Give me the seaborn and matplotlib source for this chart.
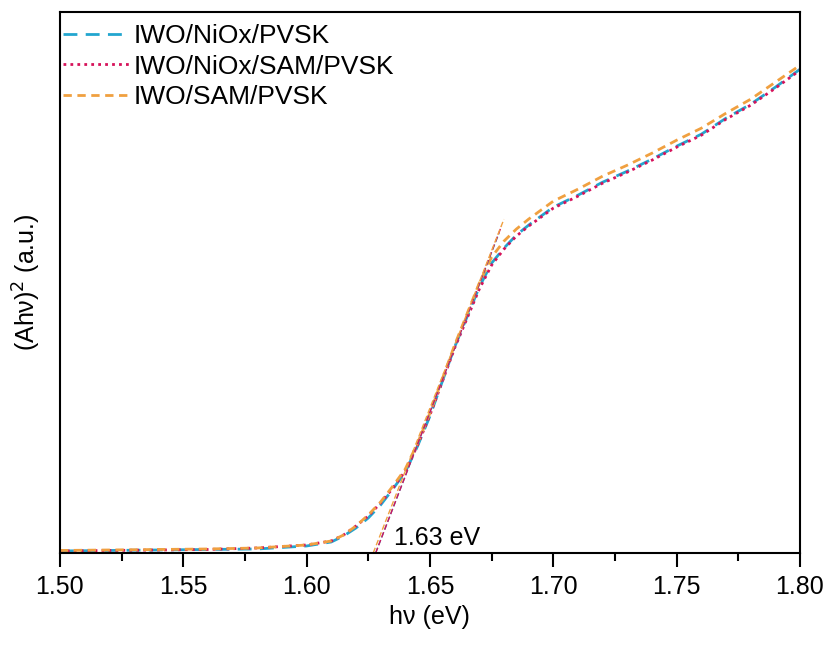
import numpy as np
import pandas as pd
import matplotlib
matplotlib.use("Agg")
import matplotlib.pyplot as plt
from matplotlib.ticker import MultipleLocator, NullLocator, FormatStrFormatter
import seaborn as sns

# photon energy (eV)
energy = [1.50, 1.52, 1.54, 1.56, 1.58, 1.60, 1.61, 1.615, 1.62, 1.625, 1.63,
          1.635, 1.64, 1.645, 1.65, 1.66, 1.67, 1.675, 1.68, 1.685, 1.69,
          1.70, 1.71, 1.72, 1.73, 1.74, 1.75, 1.76, 1.77, 1.78, 1.79, 1.80]

# (Ahv)^2 in a.u.
niox = [0.02, 0.025, 0.03, 0.035, 0.04, 0.07, 0.11, 0.17, 0.25, 0.35, 0.48,
        0.64, 0.81, 1.07, 1.37, 2.06, 2.66, 2.90, 3.05, 3.18, 3.28,
        3.46, 3.58, 3.71, 3.82, 3.94, 4.07, 4.19, 4.35, 4.49, 4.66, 4.84]
niox_sam = [0.02, 0.025, 0.03, 0.035, 0.05, 0.08, 0.12, 0.18, 0.27, 0.37, 0.50,
            0.65, 0.82, 1.08, 1.38, 2.05, 2.64, 2.88, 3.04, 3.17, 3.27,
            3.45, 3.57, 3.70, 3.81, 3.93, 4.06, 4.18, 4.34, 4.48, 4.65, 4.83]
sam = [0.025, 0.03, 0.035, 0.04, 0.05, 0.08, 0.12, 0.18, 0.27, 0.38, 0.51,
       0.67, 0.84, 1.10, 1.40, 2.08, 2.70, 2.96, 3.12, 3.24, 3.34,
       3.52, 3.64, 3.77, 3.88, 4.00, 4.13, 4.25, 4.40, 4.54, 4.71, 4.88]

labels = ["IWO/NiOx/PVSK", "IWO/NiOx/SAM/PVSK", "IWO/SAM/PVSK"]
colors = ["#22a6cf", "#d6125a", "#f0a040"]

# linear fits (Tauc extrapolation), start/end points
fit_x = [[1.628, 1.678], [1.628, 1.679], [1.627, 1.680]]
fit_y = [[0.0, 3.20], [0.0, 3.27], [0.0, 3.34]]
gap_label = "1.63 eV"

sns.set_style("ticks")
plt.rcParams["font.family"] = ["Liberation Sans", "DejaVu Sans"]
plt.rcParams["font.size"] = 18
plt.rcParams["text.color"] = "black"
plt.rcParams["axes.labelcolor"] = "black"
plt.rcParams["xtick.color"] = "black"
plt.rcParams["ytick.color"] = "black"
plt.rcParams["axes.edgecolor"] = "black"

fig = plt.figure(figsize=(8.32, 6.46), dpi=100)
ax = fig.add_axes([0.072, 0.144, 0.8895, 0.837])

series = [niox, niox_sam, sam]
styles = [(0, (5, 3)), (0, (1, 1.5)), (0, (3, 2))]
for ys, lab, c, ls in zip(series, labels, colors, styles):
    df = pd.DataFrame({"E": energy, "y": ys})
    sns.lineplot(data=df, x="E", y="y", ax=ax, color=c, linestyle=ls,
                 linewidth=2, label=lab)

for fx, fy, c in zip(fit_x, fit_y, colors):
    ax.plot(fx, fy, color=c, linestyle=(0, (4, 2)), linewidth=1)

ax.text(1.653, 0.03, gap_label, ha="center", va="bottom", fontsize=18)

ax.set_xlim(1.50, 1.80)
ax.set_ylim(0, 5.41)
ax.xaxis.set_major_locator(MultipleLocator(0.05))
ax.xaxis.set_minor_locator(MultipleLocator(0.025))
ax.xaxis.set_major_formatter(FormatStrFormatter("%.2f"))
ax.yaxis.set_major_locator(NullLocator())
ax.tick_params(axis="x", which="major", length=10, width=1.5, labelsize=18, pad=6)
ax.tick_params(axis="x", which="minor", length=6, width=1.5)
for sp in ax.spines.values():
    sp.set_linewidth(1.5)
    sp.set_visible(True)

ax.set_xlabel("h\u03bd (eV)", fontsize=18)
ax.set_ylabel("(Ah\u03bd)$^2$ (a.u.)", fontsize=18, labelpad=12)

ax.legend(loc="upper left", bbox_to_anchor=(0.0, 0.983), frameon=False,
          fontsize=19, handlelength=2.5, borderaxespad=0.0,
          labelspacing=0.25, handletextpad=0.2, borderpad=0.1)

plt.savefig("out.png", dpi=100)
